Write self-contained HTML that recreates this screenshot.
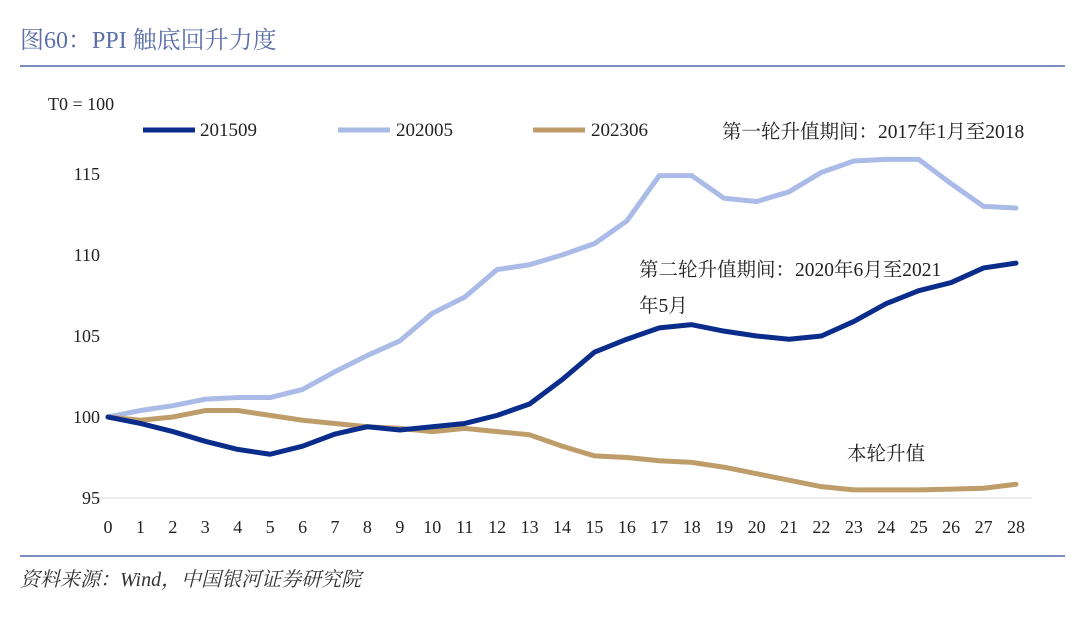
<!DOCTYPE html>
<html><head><meta charset="utf-8"><style>
body{margin:0;background:#fff;width:1080px;height:613px;overflow:hidden;font-family:"Liberation Serif","Noto Serif CJK SC",serif;}
</style></head><body>
<svg width="1080" height="613" xmlns="http://www.w3.org/2000/svg">
<text x="20" y="48" font-size="24" fill="#5b6fa8">图60：PPI 触底回升力度</text>
<line x1="20" y1="66" x2="1065" y2="66" stroke="#7b8cbf" stroke-width="2"/>
<line x1="20" y1="556" x2="1065" y2="556" stroke="#7b8cbf" stroke-width="2"/>
<text x="20" y="586" font-size="20" font-style="italic" fill="#333">资料来源：Wind，中国银河证券研究院</text>
<text x="48" y="110" font-size="18" fill="#222">T0 = 100</text>
<g id="axes"></g>
<g id="series"></g>
<g font-size="19" fill="#222">
<line x1="143" y1="130" x2="195" y2="130" stroke="#0a2d8c" stroke-width="5"/>
<text x="200" y="136">201509</text>
<line x1="338" y1="130" x2="390" y2="130" stroke="#a9bbe6" stroke-width="5"/>
<text x="396" y="136">202005</text>
<line x1="533" y1="130" x2="585" y2="130" stroke="#bf9d6a" stroke-width="5"/>
<text x="591" y="136">202306</text>
</g>
<g font-size="19.5" fill="#222">
<text x="722" y="138">第一轮升值期间：2017年1月至2018</text>
<text x="639" y="276">第二轮升值期间：2020年6月至2021</text>
<text x="639" y="312">年5月</text>
<text x="847" y="460">本轮升值</text>
</g>
</svg>
<script>
const categories=[0,1,2,3,4,5,6,7,8,9,10,11,12,13,14,15,16,17,18,19,20,21,22,23,24,25,26,27,28];
const s201509=[100,99.6,99.1,98.5,98.0,97.7,98.2,98.95,99.4,99.2,99.4,99.6,100.1,100.8,102.3,104.0,104.8,105.5,105.7,105.3,105.0,104.8,105.0,105.9,107.0,107.8,108.3,109.2,109.5];
const s202005=[100,100.4,100.7,101.1,101.2,101.2,101.7,102.8,103.8,104.7,106.4,107.4,109.1,109.4,110.0,110.7,112.1,114.9,114.9,113.5,113.3,113.9,115.1,115.8,115.9,115.9,114.4,113.0,112.9];
const s202306=[100,99.8,100.0,100.4,100.4,100.1,99.8,99.6,99.4,99.3,99.1,99.3,99.1,98.9,98.2,97.6,97.5,97.3,97.2,96.9,96.5,96.1,95.7,95.5,95.5,95.5,95.55,95.6,95.85];
const yTicks=[95,100,105,110,115];
const NS="http://www.w3.org/2000/svg";
const xs=i=>108+i*(908/28);
const ys=v=>498-(v-95)*16.2;
const axes=document.getElementById('axes');
const base=document.createElementNS(NS,'line');
base.setAttribute('x1',92);base.setAttribute('x2',1032);base.setAttribute('y1',498);base.setAttribute('y2',498);
base.setAttribute('stroke','#d9d9d9');base.setAttribute('stroke-width',1);


axes.appendChild(base);
yTicks.forEach(t=>{const e=document.createElementNS(NS,'text');e.setAttribute('x',100);e.setAttribute('y',ys(t)+6);e.setAttribute('text-anchor','end');e.setAttribute('font-size',18);e.setAttribute('fill','#222');e.textContent=t;


axes.appendChild(e);});
categories.forEach((c,i)=>{const e=document.createElementNS(NS,'text');e.setAttribute('x',xs(i));e.setAttribute('y',533);e.setAttribute('text-anchor','middle');e.setAttribute('font-size',18);e.setAttribute('fill','#222');e.textContent=c;


axes.appendChild(e);});
const g=document.getElementById('series');
[[s202005,'#a9bbe6','line-202005'],[s202306,'#bf9d6a','line-202306'],[s201509,'#0a2d8c','line-201509']].forEach(([d,c,n])=>{
const p=document.createElementNS(NS,'polyline');
p.setAttribute('points',d.map((v,i)=>xs(i)+','+ys(v)).join(' '));
p.setAttribute('fill','none');p.setAttribute('stroke',c);p.setAttribute('stroke-width',5);p.setAttribute('stroke-linejoin','round');p.setAttribute('stroke-linecap','round');


g.appendChild(p);});
</script>
</body></html>
